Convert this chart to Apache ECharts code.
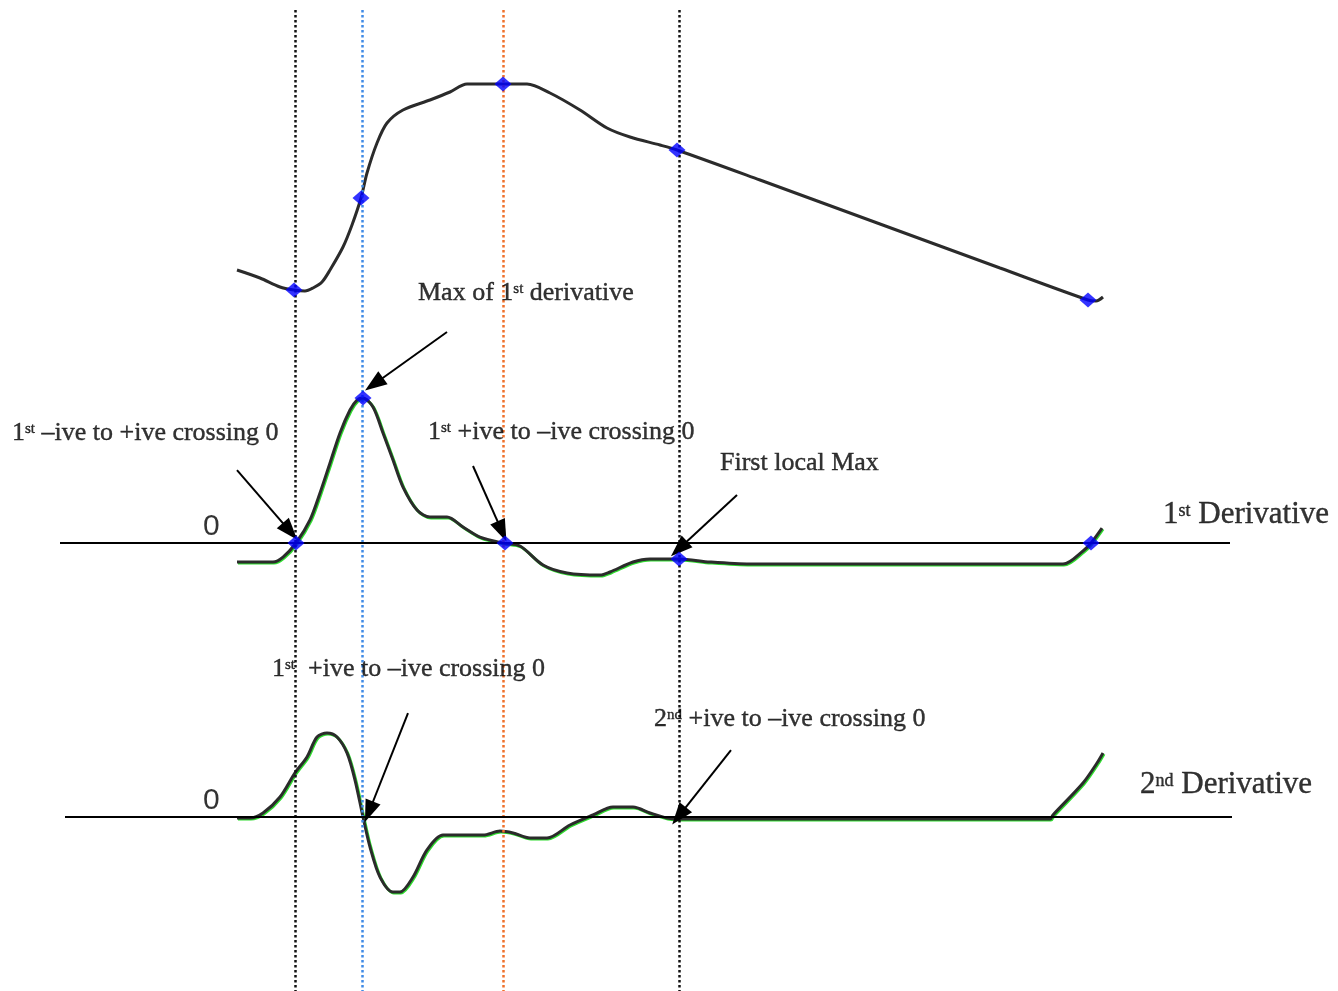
<!DOCTYPE html>
<html>
<head>
<meta charset="utf-8">
<script src="https://cdn.jsdelivr.net/npm/echarts@6/dist/echarts.min.js"></script>
<style>
  html, body { margin: 0; padding: 0; background: #fff; }
  #main { width: 1338px; height: 991px; }
</style>
</head>
<body>
<div id="main"></div>
<script>
// time axis: one unit = 10 px of the original figure
// signal (arbitrary units)
const signalT = [23.7, 26.0, 28.0, 29.4, 30.5, 31.3, 32.2, 33.0, 34.3, 35.2, 36.1, 36.7, 37.7, 38.7, 40.3, 43.0, 45.0, 46.7, 52.7, 55.0, 58.0, 60.7, 63.0, 66.0, 67.7, 76.0, 88.0, 100.0, 108.8, 109.6, 110.3];
const signalV = [15, 11, 6.5, 5, 4.5, 6, 9, 15, 26.5, 37.5, 51, 63.5, 78.5, 88.5, 95, 100, 104, 108, 108, 103.5, 95, 86, 81.5, 77.5, 75, 60, 38, 16, 0, -0.5, 1.5];
const signalMarkT = [29.4, 36.1, 50.3, 67.7, 108.8];
const signalMarkV = [5, 51, 108, 75, 0];

// 1st derivative
const d1T = [23.7, 27.3, 28.3, 29.6, 31.0, 32.0, 33.0, 34.0, 35.0, 35.7, 36.3, 37.3, 38.3, 39.3, 40.3, 41.7, 43.0, 44.7, 46.3, 48.0, 50.3, 52.0, 54.3, 56.7, 60.0, 61.0, 63.3, 65.0, 67.9, 71.0, 75.0, 106.3, 108.3, 109.1, 110.2];
const d1V = [-1.31, -1.31, -0.97, 0, 1.59, 3.45, 5.52, 7.59, 9.17, 9.86, 10.0, 9.38, 7.59, 5.72, 3.86, 2.28, 1.79, 1.79, 1.10, 0.41, 0, -0.21, -1.52, -2.07, -2.21, -2.0, -1.31, -1.10, -1.10, -1.31, -1.45, -1.45, -0.55, 0, 1.03];
const d1MarkT = [29.6, 36.3, 50.5, 67.9, 109.1];
const d1MarkV = [0, 10.0, 0, -1.10, 0];

// 2nd derivative
const d2T = [23.7, 25.0, 26.3, 28.0, 29.5, 30.7, 31.7, 32.7, 33.7, 34.7, 35.5, 36.3, 37.0, 38.0, 39.3, 40.0, 41.3, 42.7, 44.3, 48.3, 50.0, 51.3, 53.0, 54.7, 57.0, 59.3, 61.3, 63.3, 65.0, 66.7, 68.0, 105.0, 105.3, 108.3, 109.7, 110.3];
const d2V = [-0.05, -0.05, 0.19, 0.95, 2.10, 2.86, 3.81, 4.00, 3.81, 3.05, 1.76, 0, -1.43, -2.86, -3.57, -3.57, -2.86, -1.57, -0.86, -0.86, -0.67, -0.76, -1.00, -1.00, -0.38, 0.10, 0.48, 0.48, 0.19, -0.05, -0.10, -0.10, 0.10, 1.62, 2.57, 3.05];

// event times (vertical guides)
const eventT = [29.5, 36.25, 50.35, 67.9];
const eventColors = ['#111', '#3f8ae6', '#f0702a', '#111'];

// layout: where each y axis sits on the page
const H = 991;
function yRange(zeroPx, pxPerUnit) {
  return { min: -(H - zeroPx) / pxPerUnit, max: zeroPx / pxPerUnit };
}
const sigRange = yRange(300, 2);
const d1Range = yRange(543, 14.5);
const d2Range = yRange(817, 21);

const zip = (a, b) => a.map((x, i) => [x, b[i]]);

const ink = { color: '#000', textBorderColor: '#000', textBorderWidth: 0.4 };
const supStyle = Object.assign({ fontSize: 15, verticalAlign: 'top', fontFamily: 'Liberation Serif', padding: [2, 0, 0, 0] }, ink);

// annotations [text, t, value, size]
const d1Notes = [
  ['Max of 1{s|st} derivative', 41.8, 17.24, 26],
  ['1{s|st} \u2013ive to +ive crossing 0', 1.2, 7.59, 26],
  ['1{s|st} +ive to \u2013ive crossing 0', 42.8, 7.66, 26],
  ['First local Max', 72.0, 5.52, 26],
  ['1{b|st} Derivative', 116.3, 1.93, 31],
  ['{z|0}', 20.3, 1.10, 30]
];
const d2Notes = [
  ['1{s|st}  +ive to \u2013ive crossing 0', 27.2, 7.05, 26],
  ['2{s|nd} +ive to \u2013ive crossing 0', 65.4, 4.67, 26],
  ['2{b|nd} Derivative', 114.0, 1.52, 31],
  ['{z|0}', 20.3, 0.76, 30]
];
// arrows [from t, from v, to t, to v]
const d1Arrows = [
  [44.7, 14.55, 37.4, 10.95],
  [23.7, 5.03, 29.0, 0.80],
  [47.3, 5.31, 50.2, 0.80],
  [73.7, 3.31, 67.9, -0.40]
];
const d2Arrows = [
  [40.8, 4.95, 36.9, 0.25],
  [73.1, 3.19, 67.9, 0.05]
];

function noteSeries(notes, yIdx) {
  return {
    type: 'scatter',
    yAxisIndex: yIdx,
    symbolSize: 0,
    silent: true,
    z: 10,
    data: notes.map(n => ({
      value: [n[1], n[2]],
      label: Object.assign({
        show: true,
        position: 'right',
        distance: 0,
        formatter: n[0],
        fontSize: n[3],
        fontFamily: 'Liberation Serif',
        rich: {
          s: supStyle,
          b: Object.assign({}, supStyle, { fontSize: 18, padding: [3, 0, 0, 0] }),
          z: Object.assign({ fontSize: n[3], fontFamily: 'Liberation Sans' }, ink, { textBorderWidth: 0 })
        }
      }, ink)
    }))
  };
}

function arrowLines(arrows) {
  return arrows.map(a => [{ coord: [a[0], a[1]] }, { coord: [a[2], a[3]] }]);
}

const curveStyle = { color: '#2b2b2b', width: 3 };
const greenStyle = { color: '#2b2b2b', width: 3, shadowColor: '#2fdc2f', shadowOffsetX: 1, shadowOffsetY: 1, shadowBlur: 0 };

const charts = echarts.init(document.getElementById('main'));
const options = {
  animation: false,
  grid: { left: 0, right: 0, top: 0, bottom: 0 },
  xAxis: { type: 'value', min: 0, max: 133.8, show: false },
  yAxis: [
    { type: 'value', min: sigRange.min, max: sigRange.max, show: false },
    { type: 'value', min: d1Range.min, max: d1Range.max, show: false },
    { type: 'value', min: d2Range.min, max: d2Range.max, show: false }
  ],
  series: [
    {
      name: 'signal',
      type: 'line',
      yAxisIndex: 0,
      data: zip(signalT, signalV),
      smooth: 0.3,
      showSymbol: false,
      lineStyle: curveStyle,
      z: 3,
      markLine: {
        silent: true,
        symbol: ['none', 'none'],
        label: { show: false },
        lineStyle: { type: 'dotted', width: 2.5 },
        data: eventT.map((t, i) => [
          { coord: [t, sigRange.max - 5], lineStyle: { color: eventColors[i], type: 'dotted', width: 2.5 } },
          { coord: [t, sigRange.min] }
        ])
      }
    },
    {
      name: '1st derivative',
      type: 'line',
      yAxisIndex: 1,
      data: zip(d1T, d1V),
      smooth: 0.3,
      showSymbol: false,
      lineStyle: greenStyle,
      z: 3,
      markLine: {
        silent: true,
        symbol: ['none', 'triangle'],
        symbolSize: [16, 22],
        label: { show: false },
        lineStyle: { color: '#000', type: 'solid', width: 2 },
        data: [[{ coord: [6.0, 0], symbol: 'none' }, { coord: [123.0, 0], symbol: 'none' }]].concat(arrowLines(d1Arrows))
      }
    },
    {
      name: '2nd derivative',
      type: 'line',
      yAxisIndex: 2,
      data: zip(d2T, d2V),
      smooth: 0.3,
      showSymbol: false,
      lineStyle: greenStyle,
      z: 3,
      markLine: {
        silent: true,
        symbol: ['none', 'triangle'],
        symbolSize: [16, 22],
        label: { show: false },
        lineStyle: { color: '#000', type: 'solid', width: 2 },
        data: [[{ coord: [6.5, 0], symbol: 'none' }, { coord: [123.2, 0], symbol: 'none' }]].concat(arrowLines(d2Arrows))
      }
    },
    {
      type: 'scatter',
      yAxisIndex: 0,
      symbol: 'diamond',
      symbolSize: [17, 15],
      itemStyle: { color: '#0000ff' },
      z: 5,
      data: zip(signalMarkT, signalMarkV)
    },
    {
      type: 'scatter',
      yAxisIndex: 1,
      symbol: 'diamond',
      symbolSize: [17, 15],
      itemStyle: { color: '#0000ff' },
      z: 5,
      data: zip(d1MarkT, d1MarkV)
    },
    noteSeries(d1Notes, 1),
    noteSeries(d2Notes, 2)
  ]
};
charts.setOption(options, true);
</script>
</body>
</html>
